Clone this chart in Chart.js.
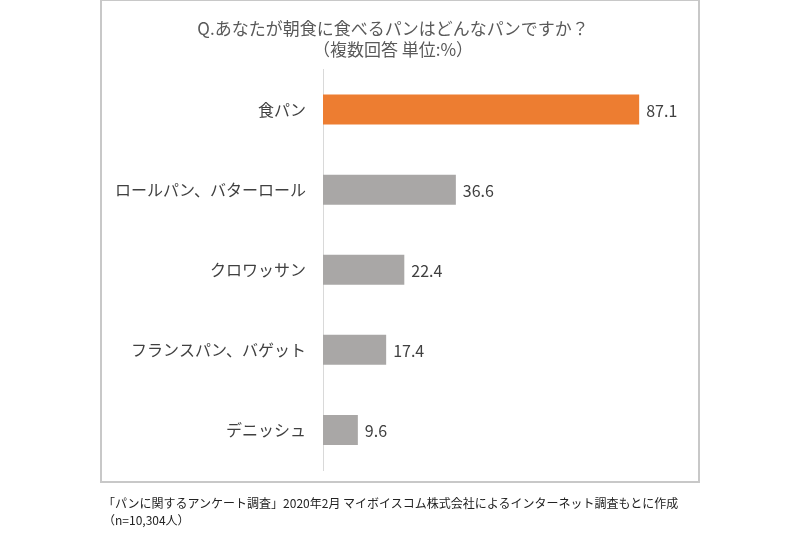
<!DOCTYPE html>
<html lang="ja">
<head>
  <meta charset="UTF-8">
  <title>朝食に食べるパン</title>
  <script src="https://cdn.jsdelivr.net/npm/chart.js"></script>
  <style>
    body { margin: 0; background: #fff; font-family: "Noto Sans CJK JP", sans-serif; }
    #wrap { position: relative; width: 800px; height: 533px; }
    #box { position: absolute; left: 100px; top: 0; width: 596px; height: 480px; border: 2px solid #c8c8c8; border-top-width: 1px; }
    #myChart { position: absolute; left: 0; top: 0; }
    #note { position: absolute; left: 103px; top: 494px; font-size: 12px; line-height: 17px; color: #222; }
  </style>
</head>
<body>
  <div id="wrap">
    <div id="box"></div>
    <canvas id="myChart" width="800" height="533"></canvas>
    <div id="note">「パンに関するアンケート調査」2020年2月 マイボイスコム株式会社によるインターネット調査もとに作成<br>（n=10,304人）</div>
  </div>

  <script>
    // data
    const categories = ['食パン', 'ロールパン、バターロール', 'クロワッサン', 'フランスパン、バゲット', 'デニッシュ'];
    const values = [87.1, 36.6, 22.4, 17.4, 9.6];
    const barColors = ['#ED7D31', '#A9A7A6', '#A9A7A6', '#A9A7A6', '#A9A7A6'];
    const titleLines = ['Q.あなたが朝食に食べるパンはどんなパンですか？', '（複数回答 単位:%）'];

    const fontFamily = '"Noto Sans CJK JP", sans-serif';

    // value labels at the end of each bar
    const valueLabels = {
      id: 'valueLabels',
      afterDatasetsDraw(chart) {
        const ctx = chart.ctx;
        const meta = chart.getDatasetMeta(0);
        ctx.save();
        ctx.font = '16px ' + fontFamily;
        ctx.fillStyle = '#404040';
        ctx.textAlign = 'left';
        ctx.textBaseline = 'middle';
        meta.data.forEach((bar, i) => {
          ctx.fillText(values[i].toFixed(1), bar.x + 7, bar.y + 1);
        });
        ctx.restore();
      }
    };

    const ctx = document.getElementById('myChart').getContext('2d');
    new Chart(ctx, {
      type: 'bar',
      data: {
        labels: categories,
        datasets: [{
          data: values,
          backgroundColor: barColors,
          categoryPercentage: 0.75,
          barPercentage: 0.5
        }]
      },
      options: {
        indexAxis: 'y',
        responsive: false,
        animation: false,
        layout: { padding: { left: 100, right: 114, top: 8, bottom: 63 } },
        plugins: {
          legend: { display: false },
          tooltip: { enabled: false },
          title: {
            display: true,
            text: titleLines,
            color: '#595959',
            font: { family: fontFamily, size: 17, weight: 'normal', lineHeight: 1.25 },
            padding: { top: 10, bottom: 9 }
          }
        },
        scales: {
          x: {
            min: 0,
            max: 100,
            display: false
          },
          y: {
            grid: { display: false },
            border: { display: true, color: '#d9d9d9', width: 1 },
            ticks: {
              color: '#404040',
              padding: 9,
              font: { family: fontFamily, size: 16 }
            },
            afterFit(scale) { scale.width = 223; }
          }
        }
      },
      plugins: [valueLabels]
    });
  </script>
</body>
</html>
